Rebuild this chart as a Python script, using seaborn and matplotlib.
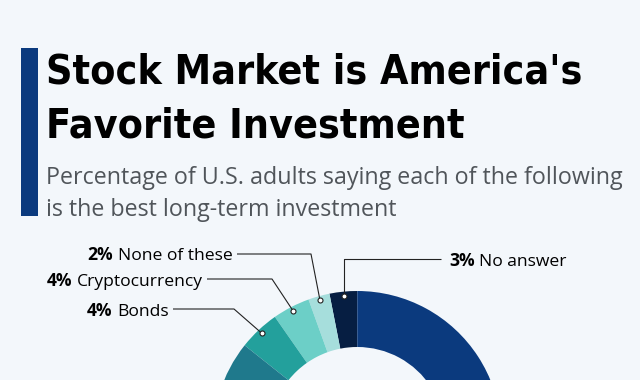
import os
import matplotlib
matplotlib.use("Agg")
import matplotlib.pyplot as plt
import seaborn as sns
import numpy as np
from matplotlib.patches import Rectangle
from matplotlib import font_manager as fm

# datos del gráfico (los sectores de abajo quedan fuera del recorte)
categorias = ["No answer", "None of these", "Cryptocurrency", "Bonds",
              "Savings accounts/CDs", "Gold", "Real estate", "Stocks/mutual funds"]
porcentajes = [3.1, 2.4, 4.2, 4.6, 12, 14, 28, 31.7]
etiquetas_pct = ["3%", "2%", "4%", "4%"]
colores = ["#061e42", "#a6dedc", "#6ccfc7", "#23a09c",
           "#1f798c", "#1a5f7e", "#154c7c", "#0b3a7e"]

titulo = ["Stock Market is America's", "Favorite Investment"]
subtitulo = ["Percentage of U.S. adults saying each of the following",
             "is the best long-term investment"]

FONDO = "#f3f7fb"
W, H = 640, 380

sns.set_theme(style="white")
plt.rcParams["font.family"] = ["Open Sans", "DejaVu Sans"]

#buscamos una fuente estrecha en negrita para el título
def buscar_fuente(archivos):
    disponibles = {os.path.basename(f.fname): f.fname for f in fm.fontManager.ttflist}
    for a in archivos:
        if a in disponibles:
            return disponibles[a]
    return None

ruta_titulo = buscar_fuente(["LiberationSansNarrow-Bold.ttf",
                             "OpenSansCondensed-Bold.ttf",
                             "DejaVuSansCondensed-Bold.ttf"])
if ruta_titulo:
    fp_titulo = fm.FontProperties(fname=ruta_titulo)
else:
    fp_titulo = fm.FontProperties(family="Open Sans", weight="bold")

fig = plt.figure(figsize=(6.4, 3.8), dpi=100, facecolor=FONDO)
ax = fig.add_axes([0, 0, 1, 1])
ax.set_facecolor(FONDO)

def Y(y):
    # pasamos de coordenadas de imagen (y hacia abajo) a datos
    return H - y

#dibujamos el donut
cx, cy, R = 357.3, Y(435), 144
wedges, _ = ax.pie(porcentajes, colors=colores, startangle=90, counterclock=True,
                   radius=R, center=(cx, cy),
                   wedgeprops=dict(width=56, linewidth=0))
ax.set_xlim(0, W)
ax.set_ylim(0, H)
ax.set_aspect("auto")
ax.axis("off")

#barra azul a la izquierda del título
ax.add_patch(Rectangle((21, Y(216)), 17, 168, color="#0b3a7e", lw=0))

fig.canvas.draw()
renderer = fig.canvas.get_renderer()

def ajustar_ancho(t, ancho):
    # escalamos el tamaño de letra para que el texto ocupe el ancho buscado
    w = t.get_window_extent(renderer).width
    t.set_fontsize(t.get_fontsize() * ancho / w)

#título y subtítulo
tt = []
for i, linea in enumerate(titulo):
    tt.append(ax.text(46, Y(84 + i * 53), linea, fontproperties=fp_titulo,
                      fontsize=36, color="black", ha="left", va="baseline"))
ajustar_ancho(tt[0], 536)
tt[1].set_fontsize(tt[0].get_fontsize())

ts = []
for i, linea in enumerate(subtitulo):
    ts.append(ax.text(46.5, Y(184 + i * 32), linea, fontsize=16, color="#50555a",
                      ha="left", va="baseline"))
ajustar_ancho(ts[0], 577)
ts[1].set_fontsize(ts[0].get_fontsize())

#etiquetas con líneas guía: (codo x, codo y, fin de línea x)
guias = [(None, 259, 441), (311, 254, 237), (272, 279, 207), (234, 309, 173)]
fs_lab = 12.6

for i in range(4):
    w = wedges[i]
    ang = np.deg2rad((w.theta1 + w.theta2) / 2)
    px = cx + 0.97 * R * np.cos(ang)
    py = cy + 0.97 * R * np.sin(ang)
    codo_x, codo_y, fin_x = guias[i]
    if codo_x is None:
        codo_x = px
    ax.plot([px, codo_x, fin_x], [py, Y(codo_y), Y(codo_y)], color="#222222",
            lw=0.8, solid_capstyle="butt", zorder=3)
    ax.plot(px, py, marker="o", ms=3.6, mfc="white", mec="#222222", mew=0.8, zorder=4)

    base = Y(codo_y + 6.5)
    if fin_x > px:
        # etiqueta a la derecha
        tb = ax.text(fin_x + 8, base, etiquetas_pct[i], fontsize=fs_lab,
                     fontweight="bold", color="black", ha="left", va="baseline")
        x1 = tb.get_window_extent(renderer).x1
        ax.text(x1 + 4.5, base, categorias[i], fontsize=fs_lab, color="black",
                ha="left", va="baseline")
    else:
        tr = ax.text(fin_x - 4.5, base, categorias[i], fontsize=fs_lab, color="black",
                     ha="right", va="baseline")
        x0 = tr.get_window_extent(renderer).x0
        ax.text(x0 - 4.5, base, etiquetas_pct[i], fontsize=fs_lab,
                fontweight="bold", color="black", ha="right", va="baseline")

fig.savefig("out.png", dpi=100, facecolor=FONDO)
